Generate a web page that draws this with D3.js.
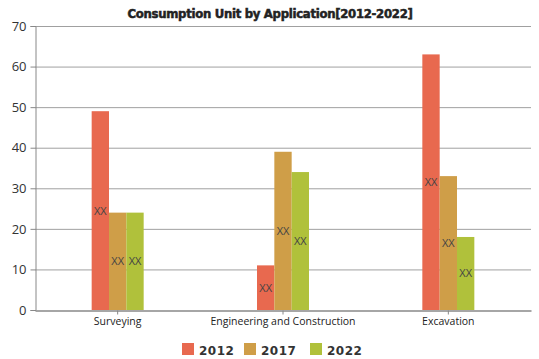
<!DOCTYPE html>
<html><head><meta charset="utf-8">
<script src="https://cdn.jsdelivr.net/npm/d3@7"></script>
<style>body{margin:0;background:#fff}svg{display:block}</style>
</head><body>
<svg id="c" width="539" height="359"></svg>
<script>
const categories = ["Surveying", "Engineering and Construction", "Excavation"];
const seriesNames = ["2012", "2017", "2022"];
const values2012 = [49, 11, 63];
const values2017 = [24, 39, 33];
const values2022 = [24, 34, 18];
const yTicks = [0, 10, 20, 30, 40, 50, 60, 70];
const colors = ["#E8694F", "#CF9E48", "#B0C13B"];
const series = [values2012, values2017, values2022];

const svg = d3.select("#c");
const m = {l: 35, r: 8, t: 26, b: 49};
const W = 539, H = 359;
const x = d3.scaleBand().domain(categories).range([m.l, W - m.r]);
const y = d3.scaleLinear().domain([0, 70]).range([H - m.b, m.t]);
const groupW = 52;
const xs = d3.scaleBand().domain(seriesNames).range([0, groupW]);

// grid
svg.append("g").selectAll("line").data(yTicks.slice(1)).join("line")
  .attr("x1", m.l).attr("x2", W - m.r)
  .attr("y1", d => y(d) + 0.5).attr("y2", d => y(d) + 0.5)
  .attr("stroke", "#a0a0a0").attr("stroke-width", 1);

// y axis
const ya = svg.append("g").attr("transform", `translate(${m.l + 0.5},0)`)
  .call(d3.axisLeft(y).tickValues(yTicks).tickSize(5).tickPadding(4));
ya.select(".domain").attr("stroke", "#888");
ya.selectAll(".tick line").attr("stroke", "#888");
ya.selectAll("text").attr("fill", "#333").style("font-family", "'Open Sans', sans-serif").style("font-size", "13px");

// bars
const g = svg.append("g");
series.forEach((vals, si) => {
  g.selectAll(null).data(vals).join("rect")
    .attr("x", (d, i) => x(categories[i]) + x.bandwidth() / 2 - groupW / 2 + xs(seriesNames[si]))
    .attr("width", xs.bandwidth())
    .attr("y", d => y(d))
    .attr("height", d => y(0) - y(d))
    .attr("fill", colors[si]);
  g.selectAll(null).data(vals).join("text")
    .attr("x", (d, i) => x(categories[i]) + x.bandwidth() / 2 - groupW / 2 + xs(seriesNames[si]) + xs.bandwidth() / 2)
    .attr("y", d => y(d / 2) + 4)
    .attr("text-anchor", "middle")
    .attr("fill", "#444")
    .style("font-family", "'Open Sans', sans-serif").style("font-size", "11px")
    .text("XX");
});

// x axis
const xa = svg.append("g").attr("transform", `translate(0,${y(0) + 0.5})`)
  .call(d3.axisBottom(x).tickSize(4).tickPadding(3).tickSizeOuter(0));
xa.select(".domain").attr("stroke", "#888").attr("stroke-width", 1.5);
xa.selectAll(".tick line").attr("stroke", "#888");
xa.selectAll("text").attr("fill", "#222").style("font-family", "'Open Sans', sans-serif").style("font-size", "10.5px");

// title
svg.append("text").attr("x", 270).attr("y", 18).attr("text-anchor", "middle")
  .attr("fill", "#222").attr("stroke", "#222").attr("stroke-width", 0.5)
  .style("font-family", "'DejaVu Sans Condensed', 'DejaVu Sans', sans-serif")
  .style("font-weight", "bold").style("font-size", "13px").style("letter-spacing", "-0.3px")
  .text("Consumption Unit by  Application[2012-2022]");

// legend
const lx = [182, 244, 310];
const lg = svg.append("g");
seriesNames.forEach((s, i) => {
  lg.append("rect").attr("x", lx[i]).attr("y", 343).attr("width", 12).attr("height", 12).attr("fill", colors[i]);
  lg.append("text").attr("x", lx[i] + 17).attr("y", 354.5).attr("fill", "#333")
    .style("font-family", "'DejaVu Sans', sans-serif").style("font-weight", "bold").style("font-size", "12px")
    .style("letter-spacing", "0.5px").text(s);
});
</script>
</body></html>
